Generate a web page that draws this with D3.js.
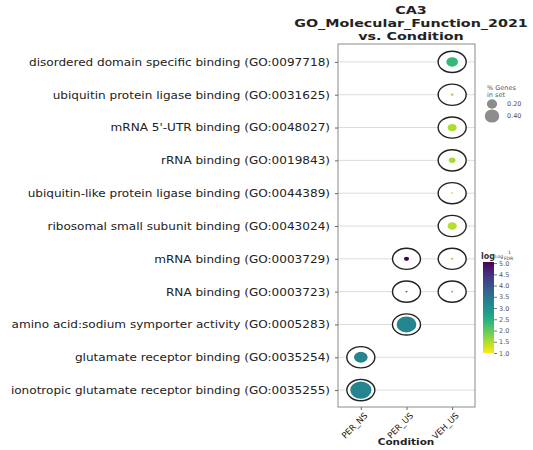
<!DOCTYPE html>
<html>
<head>
<meta charset="utf-8">
<script src="https://cdn.jsdelivr.net/npm/d3@7"></script>
<style>
  html, body { margin: 0; padding: 0; background: #fff; }
  svg { display: block; font-family: "DejaVu Sans", sans-serif; }
</style>
</head>
<body>
<svg id="chart" width="533" height="450"></svg>
<script>
// GO terms, top to bottom
const terms = [
  "disordered domain specific binding (GO:0097718)",
  "ubiquitin protein ligase binding (GO:0031625)",
  "mRNA 5'-UTR binding (GO:0048027)",
  "rRNA binding (GO:0019843)",
  "ubiquitin-like protein ligase binding (GO:0044389)",
  "ribosomal small subunit binding (GO:0043024)",
  "mRNA binding (GO:0003729)",
  "RNA binding (GO:0003723)",
  "amino acid:sodium symporter activity (GO:0005283)",
  "glutamate receptor binding (GO:0035254)",
  "ionotropic glutamate receptor binding (GO:0035255)"
];
const conditions = ["PER_NS", "PER_US", "VEH_US"];

// one entry per dot
const pointTerm = [0, 1, 2, 3, 4, 5, 6, 6, 7, 7, 8, 9, 10];
const pointCondition = ["VEH_US", "VEH_US", "VEH_US", "VEH_US", "VEH_US", "VEH_US",
  "PER_US", "VEH_US", "PER_US", "VEH_US", "PER_US", "PER_NS", "PER_NS"];
const pointGenes = [0.21, 0.012, 0.12, 0.07, 0.006, 0.13, 0.04, 0.01, 0.006, 0.006, 0.68, 0.34, 0.78];
const pointScore = [2.35, 1.6, 1.5, 1.55, 1.35, 1.45, 5.05, 1.5, 3.5, 2.2, 3.2, 3.2, 3.2];

const legendGenes = [0.20, 0.40];
const colorTicks = [1.0, 1.5, 2.0, 2.5, 3.0, 3.5, 4.0, 4.5, 5.0];

const svg = d3.select("#chart");
const plotL = 338, plotR = 475, plotT = 44, plotB = 407;
const stretch = 1.22;      // dots are drawn slightly wider than tall
const textStretch = 1.15;  // labels use the same wide look

const x = d3.scalePoint().domain(conditions).range([plotL, plotR]).padding(0.5);
const y = d3.scalePoint().domain(terms).range([plotT + 1.5, plotB - 0.5]).padding(0.5);
const r = d3.scaleSqrt().domain([0, 0.4]).range([0, 6.6]);
const cMin = 1.0, cMax = d3.max(pointScore);
const color = d3.scaleSequential(t => d3.interpolateViridis(1 - t)).domain([cMin, cMax]);

const points = pointTerm.map((t, i) => ({
  term: terms[t], cond: pointCondition[i], genes: pointGenes[i], score: pointScore[i]
}));

// gridlines
svg.append("g").selectAll("line").data(terms).join("line")
  .attr("x1", plotL).attr("x2", plotR)
  .attr("y1", d => y(d)).attr("y2", d => y(d))
  .attr("stroke", "#dcdcdc").attr("stroke-width", 1);

// frame
svg.append("rect").attr("x", plotL).attr("y", plotT)
  .attr("width", plotR - plotL).attr("height", plotB - plotT)
  .attr("fill", "none").attr("stroke", "#8a8a8a").attr("stroke-width", 1);

// y axis: labels stretched horizontally around their right edge
const yAxis = svg.append("g").attr("transform", `translate(${plotL},0)`)
  .call(d3.axisLeft(y).tickSize(3).tickPadding(5));
yAxis.select(".domain").remove();
yAxis.selectAll(".tick line").attr("stroke", "#666");
yAxis.selectAll("text").attr("font-size", 10.5).attr("fill", "#222")
  .attr("font-family", "DejaVu Sans")
  .attr("transform", `translate(-8,0) scale(${textStretch},1) translate(8,0)`);

const xAxis = svg.append("g").attr("transform", `translate(0,${plotB})`)
  .call(d3.axisBottom(x).tickSize(3).tickPadding(4));
xAxis.select(".domain").remove();
xAxis.selectAll(".tick line").attr("stroke", "#666");
xAxis.selectAll("text").attr("font-size", 8.5).attr("fill", "#222")
  .attr("font-family", "DejaVu Sans")
  .attr("text-anchor", "end")
  .attr("dx", "-0.2em").attr("dy", "0.5em")
  .attr("transform", "rotate(-45)");

// outer rings
const dots = svg.append("g");
dots.selectAll("ellipse.ring").data(points).join("ellipse").attr("class", "ring")
  .attr("cx", d => x(d.cond)).attr("cy", d => y(d.term))
  .attr("rx", 14).attr("ry", 10.6)
  .attr("fill", "#fff").attr("stroke", "#222").attr("stroke-width", 1.4);
// value dots
dots.selectAll("ellipse.dot").data(points).join("ellipse").attr("class", "dot")
  .attr("cx", d => x(d.cond)).attr("cy", d => y(d.term))
  .attr("rx", d => r(d.genes) * stretch).attr("ry", d => r(d.genes))
  .attr("fill", d => color(d.score))
  .attr("stroke", "#fff").attr("stroke-width", d => d.genes > 0.3 ? 1.2 : 0);

// title
const title = svg.append("g").attr("font-weight", "bold").attr("font-size", 11)
  .attr("fill", "#222").attr("text-anchor", "middle");
["CA3", "GO_Molecular_Function_2021", "vs. Condition"].forEach((t, i) => {
  title.append("text")
    .attr("transform", `translate(411,${14 + i * 13}) scale(1.3,1)`)
    .text(t);
});

// x axis title
svg.append("text").attr("transform", "translate(406,445) scale(1.1,1)")
  .attr("text-anchor", "middle")
  .attr("font-size", 9.5).attr("font-weight", "bold").attr("fill", "#222").text("Condition");

// size legend
const lg = svg.append("g").attr("fill", "#555").attr("font-size", 6.5);
lg.append("text").attr("x", 487).attr("y", 90).text("% Genes");
lg.append("text").attr("x", 487).attr("y", 97).text("in set");
legendGenes.forEach((g, i) => {
  const ly = 104 + i * 12;
  lg.append("ellipse").attr("cx", 492).attr("cy", ly)
    .attr("rx", r(g) * 1.1).attr("ry", r(g)).attr("fill", "#8c8c8c");
  lg.append("text").attr("x", 507).attr("y", ly + 2.3).text(g.toFixed(2));
});

// colour bar
const cbX = 483, cbW = 11, cbTop = 262, cbBottom = 353;
const cScale = d3.scaleLinear().domain([cMin, cMax]).range([cbBottom, cbTop]);
const defs = svg.append("defs");
const grad = defs.append("linearGradient").attr("id", "cbar")
  .attr("x1", 0).attr("y1", 1).attr("x2", 0).attr("y2", 0);
d3.range(0, 1.0001, 0.05).forEach(t => {
  grad.append("stop").attr("offset", t).attr("stop-color", color(cMin + t * (cMax - cMin)));
});
svg.append("rect").attr("x", cbX).attr("y", cbTop).attr("width", cbW)
  .attr("height", cbBottom - cbTop).attr("fill", "url(#cbar)");
const cAxis = svg.append("g").attr("transform", `translate(${cbX + cbW},0)`)
  .call(d3.axisRight(cScale).tickValues(colorTicks).tickFormat(d3.format(".1f")).tickSize(3).tickPadding(2));
cAxis.select(".domain").remove();
cAxis.selectAll(".tick line").attr("stroke", "#777");
cAxis.selectAll("text").attr("font-size", 6.5).attr("fill", "#555").attr("font-family", "DejaVu Sans");

// colour bar title
const ct = svg.append("text").attr("x", cbX - 2).attr("y", 259).attr("fill", "#333");
ct.append("tspan").attr("font-size", 8).attr("font-weight", "bold").text("log");
ct.append("tspan").attr("font-size", 4.5).attr("dy", -1).text("Log");
svg.append("text").attr("x", 508).attr("y", 254).attr("font-size", 4.5).attr("fill", "#333").text("1");
svg.append("text").attr("x", 504).attr("y", 260).attr("font-size", 4.5).attr("fill", "#333").text("FDR");
</script>
</body>
</html>
